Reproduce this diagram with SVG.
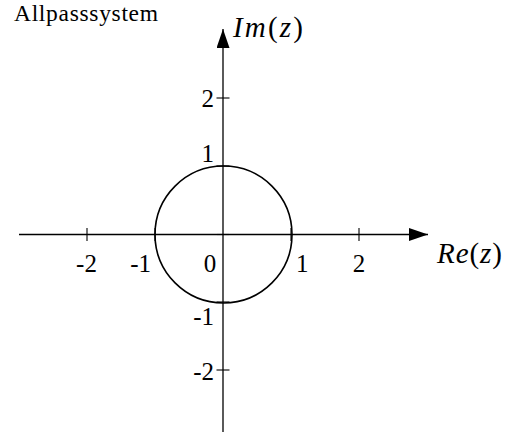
<svg xmlns="http://www.w3.org/2000/svg" width="507" height="432" viewBox="0 0 507 432">
<style>
.ax{stroke:#000;stroke-width:1.3;fill:none}
.tk{stroke:#000;stroke-width:1.1;fill:none}
text{font-family:'Liberation Serif','Times New Roman','DejaVu Serif',serif;fill:#000}
.lbl{font-size:25px}
.math{font-size:29px}
.it{font-style:italic}
.title{font-size:23.5px}
</style>
<defs>
<marker id="arr" markerWidth="19" markerHeight="13" refX="19" refY="6.5" orient="auto" markerUnits="userSpaceOnUse">
<path d="M0,0 L19,6.5 L0,13 Z" fill="#000"/>
</marker>
</defs>
<rect width="507" height="432" fill="#fff"/>
<text class="title" x="14" y="21" textLength="144" font-family="Liberation Serif, serif">Allpasssystem</text>
<g id="connectors">
<line id="re-axis" class="ax" x1="19" y1="234.5" x2="428" y2="234.5" marker-end="url(#arr)"/>
<line id="im-axis" class="ax" x1="223" y1="432" x2="223" y2="29" marker-end="url(#arr)"/>
</g>
<g id="ticks">
<line class="tk" x1="87" y1="228" x2="87" y2="241"/>
<line class="tk" x1="155" y1="228" x2="155" y2="241"/>
<line class="tk" x1="291" y1="228" x2="291" y2="241"/>
<line class="tk" x1="359" y1="228" x2="359" y2="241"/>
<line class="tk" x1="216.5" y1="98" x2="229.5" y2="98"/>
<line class="tk" x1="216.5" y1="166" x2="229.5" y2="166"/>
<line class="tk" x1="216.5" y1="234.5" x2="229.5" y2="234.5"/>
<line class="tk" x1="216.5" y1="302" x2="229.5" y2="302"/>
<line class="tk" x1="216.5" y1="370" x2="229.5" y2="370"/>
</g>
<g id="unit-circle">
<circle cx="223.5" cy="234.5" r="68.5" fill="none" stroke="#000" stroke-width="1.6"/>
</g>
<g id="labels" font-family="Liberation Serif, serif">
<text class="lbl" x="86.5" y="272" text-anchor="middle">-2</text>
<text class="lbl" x="151" y="272" text-anchor="end">-1</text>
<text class="lbl" x="210" y="272" text-anchor="middle">0</text>
<text class="lbl" x="296" y="272">1</text>
<text class="lbl" x="359" y="272" text-anchor="middle">2</text>
<text class="lbl" x="214" y="107" text-anchor="end">2</text>
<text class="lbl" x="214" y="162" text-anchor="end">1</text>
<text class="lbl" x="214" y="325" text-anchor="end">-1</text>
<text class="lbl" x="214" y="380" text-anchor="end">-2</text>
<text class="math" x="233" y="37" textLength="70"><tspan class="it">Im</tspan>(<tspan class="it">z</tspan>)</text>
<text class="math" x="437" y="263" textLength="65"><tspan class="it">Re</tspan>(<tspan class="it">z</tspan>)</text>
</g>
</svg>
